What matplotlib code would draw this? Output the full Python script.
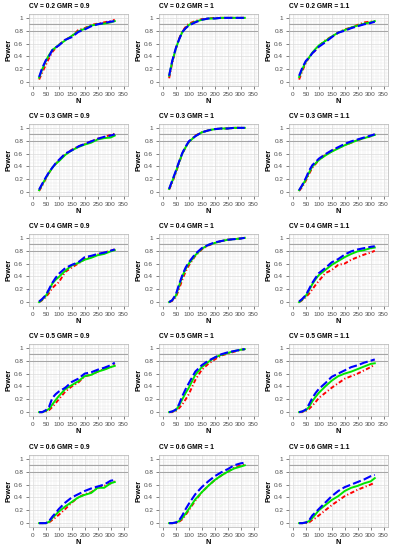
import numpy as np
import matplotlib
matplotlib.use('Agg')
import matplotlib.pyplot as plt
from matplotlib.ticker import MultipleLocator

plt.rcParams['font.family'] = ['Liberation Sans', 'DejaVu Sans']

# sample sizes (same for every panel)
N = [24, 36, 50, 62, 75, 88, 100, 125, 150, 175, 200, 225, 250, 275, 300, 316]

cv_values = [0.2, 0.3, 0.4, 0.5, 0.6]
gmr_labels = ['0.9', '1', '1.1']

# power curves, one list per panel and method
green_02_09 = [0.07, 0.20, 0.33, 0.42, 0.50, 0.54, 0.58, 0.65, 0.72, 0.79, 0.83, 0.88, 0.90, 0.91, 0.93, 0.95]
red_02_09 = [0.04, 0.15, 0.27, 0.37, 0.47, 0.53, 0.58, 0.66, 0.71, 0.81, 0.84, 0.89, 0.91, 0.93, 0.95, 0.97]
blue_02_09 = [0.08, 0.22, 0.34, 0.40, 0.50, 0.54, 0.57, 0.66, 0.70, 0.78, 0.82, 0.87, 0.90, 0.92, 0.94, 0.95]

green_02_10 = [0.10, 0.32, 0.52, 0.66, 0.78, 0.84, 0.89, 0.94, 0.97, 0.99, 0.99, 1.00, 1.00, 1.00, 1.00, 1.00]
red_02_10 = [0.06, 0.30, 0.52, 0.67, 0.79, 0.86, 0.91, 0.95, 0.98, 0.99, 1.00, 1.00, 1.00, 1.00, 1.00, 1.00]
blue_02_10 = [0.10, 0.33, 0.53, 0.66, 0.78, 0.84, 0.88, 0.93, 0.97, 0.99, 0.99, 1.00, 1.00, 1.00, 1.00, 1.00]

green_02_11 = [0.08, 0.20, 0.32, 0.38, 0.46, 0.52, 0.57, 0.64, 0.71, 0.77, 0.81, 0.85, 0.88, 0.91, 0.93, 0.95]
red_02_11 = [0.04, 0.17, 0.30, 0.38, 0.45, 0.50, 0.56, 0.65, 0.71, 0.77, 0.82, 0.85, 0.89, 0.93, 0.94, 0.95]
blue_02_11 = [0.10, 0.22, 0.33, 0.38, 0.45, 0.50, 0.55, 0.62, 0.70, 0.77, 0.80, 0.84, 0.87, 0.90, 0.92, 0.94]

green_03_09 = [0.03, 0.12, 0.22, 0.30, 0.38, 0.44, 0.48, 0.58, 0.65, 0.70, 0.74, 0.77, 0.82, 0.84, 0.85, 0.88]
red_03_09 = [0.02, 0.10, 0.21, 0.30, 0.38, 0.44, 0.49, 0.59, 0.66, 0.71, 0.75, 0.79, 0.83, 0.86, 0.89, 0.91]
blue_03_09 = [0.04, 0.13, 0.23, 0.31, 0.38, 0.45, 0.50, 0.60, 0.65, 0.71, 0.75, 0.79, 0.83, 0.86, 0.88, 0.90]

green_03_10 = [0.05, 0.17, 0.32, 0.46, 0.60, 0.70, 0.78, 0.87, 0.93, 0.96, 0.98, 0.99, 0.99, 1.00, 1.00, 1.00]
red_03_10 = [0.04, 0.15, 0.30, 0.45, 0.60, 0.70, 0.78, 0.88, 0.93, 0.96, 0.98, 0.99, 0.99, 1.00, 1.00, 1.00]
blue_03_10 = [0.05, 0.18, 0.33, 0.47, 0.61, 0.71, 0.79, 0.87, 0.93, 0.96, 0.98, 0.99, 0.99, 1.00, 1.00, 1.00]

green_03_11 = [0.03, 0.10, 0.20, 0.30, 0.40, 0.45, 0.50, 0.57, 0.63, 0.68, 0.73, 0.77, 0.81, 0.84, 0.87, 0.89]
red_03_11 = [0.02, 0.08, 0.18, 0.28, 0.38, 0.44, 0.50, 0.58, 0.64, 0.69, 0.73, 0.77, 0.81, 0.84, 0.87, 0.90]
blue_03_11 = [0.03, 0.11, 0.22, 0.33, 0.42, 0.47, 0.52, 0.59, 0.65, 0.70, 0.75, 0.79, 0.82, 0.85, 0.88, 0.90]

green_04_09 = [0.00, 0.04, 0.10, 0.18, 0.29, 0.35, 0.39, 0.49, 0.57, 0.61, 0.66, 0.69, 0.73, 0.75, 0.79, 0.81]
red_04_09 = [0.00, 0.03, 0.08, 0.14, 0.22, 0.27, 0.31, 0.47, 0.54, 0.60, 0.67, 0.70, 0.74, 0.77, 0.80, 0.82]
blue_04_09 = [0.01, 0.05, 0.11, 0.20, 0.30, 0.38, 0.44, 0.53, 0.58, 0.62, 0.70, 0.72, 0.75, 0.77, 0.80, 0.82]

green_04_10 = [0.00, 0.03, 0.10, 0.25, 0.40, 0.52, 0.60, 0.73, 0.83, 0.89, 0.92, 0.95, 0.97, 0.98, 0.99, 1.00]
red_04_10 = [0.00, 0.02, 0.08, 0.20, 0.35, 0.48, 0.57, 0.72, 0.82, 0.88, 0.92, 0.95, 0.97, 0.98, 0.99, 1.00]
blue_04_10 = [0.00, 0.03, 0.12, 0.27, 0.42, 0.54, 0.62, 0.75, 0.84, 0.89, 0.93, 0.95, 0.97, 0.98, 0.99, 1.00]

green_04_11 = [0.00, 0.04, 0.10, 0.18, 0.28, 0.36, 0.42, 0.50, 0.58, 0.64, 0.70, 0.75, 0.79, 0.81, 0.84, 0.85]
red_04_11 = [0.00, 0.03, 0.08, 0.13, 0.20, 0.27, 0.33, 0.45, 0.50, 0.58, 0.60, 0.66, 0.70, 0.74, 0.77, 0.80]
blue_04_11 = [0.01, 0.05, 0.11, 0.20, 0.30, 0.38, 0.45, 0.53, 0.62, 0.67, 0.74, 0.79, 0.82, 0.84, 0.86, 0.87]

green_05_09 = [0.00, 0.00, 0.02, 0.05, 0.12, 0.19, 0.25, 0.36, 0.42, 0.48, 0.56, 0.58, 0.63, 0.66, 0.70, 0.72]
red_05_09 = [0.00, 0.00, 0.01, 0.03, 0.08, 0.14, 0.20, 0.32, 0.40, 0.46, 0.56, 0.58, 0.63, 0.67, 0.70, 0.74]
blue_05_09 = [0.00, 0.00, 0.03, 0.08, 0.22, 0.28, 0.32, 0.38, 0.47, 0.52, 0.60, 0.62, 0.66, 0.69, 0.73, 0.77]

green_05_10 = [0.00, 0.01, 0.03, 0.10, 0.20, 0.30, 0.38, 0.58, 0.70, 0.78, 0.85, 0.89, 0.92, 0.95, 0.97, 0.98]
red_05_10 = [0.00, 0.00, 0.02, 0.06, 0.12, 0.20, 0.28, 0.50, 0.66, 0.75, 0.82, 0.88, 0.91, 0.94, 0.97, 0.98]
blue_05_10 = [0.00, 0.01, 0.04, 0.12, 0.25, 0.36, 0.45, 0.63, 0.73, 0.80, 0.85, 0.90, 0.93, 0.95, 0.97, 0.98]

green_05_11 = [0.00, 0.01, 0.03, 0.08, 0.17, 0.24, 0.30, 0.40, 0.49, 0.56, 0.60, 0.63, 0.67, 0.71, 0.75, 0.76]
red_05_11 = [0.00, 0.00, 0.02, 0.05, 0.10, 0.16, 0.22, 0.30, 0.38, 0.45, 0.52, 0.56, 0.60, 0.65, 0.70, 0.74]
blue_05_11 = [0.00, 0.01, 0.04, 0.12, 0.22, 0.30, 0.36, 0.45, 0.55, 0.60, 0.65, 0.70, 0.73, 0.77, 0.80, 0.82]

green_06_09 = [0.00, 0.00, 0.00, 0.02, 0.08, 0.13, 0.18, 0.26, 0.33, 0.40, 0.44, 0.47, 0.55, 0.55, 0.62, 0.64]
red_06_09 = [0.00, 0.00, 0.00, 0.01, 0.05, 0.09, 0.13, 0.22, 0.32, 0.40, 0.45, 0.48, 0.55, 0.58, 0.62, 0.65]
blue_06_09 = [0.00, 0.00, 0.00, 0.03, 0.10, 0.16, 0.22, 0.32, 0.40, 0.45, 0.50, 0.54, 0.57, 0.60, 0.66, 0.67]

green_06_10 = [0.00, 0.00, 0.01, 0.03, 0.08, 0.15, 0.22, 0.37, 0.48, 0.58, 0.67, 0.74, 0.80, 0.85, 0.88, 0.90]
red_06_10 = [0.00, 0.00, 0.00, 0.02, 0.06, 0.13, 0.20, 0.35, 0.48, 0.58, 0.67, 0.74, 0.80, 0.86, 0.90, 0.91]
blue_06_10 = [0.00, 0.00, 0.01, 0.04, 0.12, 0.22, 0.30, 0.45, 0.56, 0.65, 0.73, 0.79, 0.84, 0.90, 0.93, 0.94]

green_06_11 = [0.00, 0.00, 0.01, 0.03, 0.08, 0.14, 0.20, 0.28, 0.36, 0.42, 0.50, 0.55, 0.58, 0.62, 0.65, 0.70]
red_06_11 = [0.00, 0.00, 0.00, 0.01, 0.05, 0.08, 0.12, 0.20, 0.28, 0.35, 0.42, 0.47, 0.52, 0.56, 0.60, 0.63]
blue_06_11 = [0.00, 0.00, 0.01, 0.04, 0.12, 0.17, 0.22, 0.32, 0.42, 0.50, 0.56, 0.60, 0.64, 0.68, 0.73, 0.75]

panels = [
    [(green_02_09, red_02_09, blue_02_09), (green_02_10, red_02_10, blue_02_10), (green_02_11, red_02_11, blue_02_11)],
    [(green_03_09, red_03_09, blue_03_09), (green_03_10, red_03_10, blue_03_10), (green_03_11, red_03_11, blue_03_11)],
    [(green_04_09, red_04_09, blue_04_09), (green_04_10, red_04_10, blue_04_10), (green_04_11, red_04_11, blue_04_11)],
    [(green_05_09, red_05_09, blue_05_09), (green_05_10, red_05_10, blue_05_10), (green_05_11, red_05_11, blue_05_11)],
    [(green_06_09, red_06_09, blue_06_09), (green_06_10, red_06_10, blue_06_10), (green_06_11, red_06_11, blue_06_11)],
]

W, H = 393, 550
fig = plt.figure(figsize=(W / 100, H / 100), dpi=100)

col_left = [29, 159, 289]
row_top = [14, 124, 234, 344, 455]
pw, ph = 99, 72

for r, cv in enumerate(cv_values):
    for c, gmr in enumerate(gmr_labels):
        ax = fig.add_axes([col_left[c] / W, 1 - (row_top[r] + ph) / H, pw / W, ph / H])
        green, red, blue = panels[r][c]

        ax.axhline(0.8, color='#a6a6a6', lw=0.8, zorder=1)
        ax.axhline(0.9, color='#a6a6a6', lw=0.8, zorder=1)

        ax.plot(N, red, color='red', lw=1.4, dashes=(2.2, 1.2, 0.6, 1.2), zorder=3)
        ax.plot(N, green, color='#00e600', lw=1.4, zorder=4)
        ax.plot(N, blue, color='blue', lw=1.5, dashes=(4, 1.5), zorder=5)

        ax.set_xlim(-15, 367)
        ax.set_ylim(-0.06, 1.06)
        ax.xaxis.set_major_locator(MultipleLocator(50))
        ax.xaxis.set_minor_locator(MultipleLocator(10))
        ax.yaxis.set_major_locator(MultipleLocator(0.2))
        ax.yaxis.set_minor_locator(MultipleLocator(0.05))
        ax.set_yticks([0, 0.2, 0.4, 0.6, 0.8, 1])
        ax.set_yticklabels(['0', '0.2', '0.4', '0.6', '0.8', '1'])
        ax.grid(which='major', color='#dcdcdc', lw=0.5, zorder=0)
        ax.grid(which='minor', color='#e8e8e8', lw=0.35, zorder=0)
        ax.set_axisbelow(True)
        ax.tick_params(which='major', labelsize=4.6, colors='#4d4d4d', length=2.2, width=0.5, pad=2)
        ax.tick_params(which='minor', length=0)
        for s in ax.spines.values():
            s.set_color('#b3b3b3')
            s.set_linewidth(0.5)

        ax.set_xlabel('N', fontsize=5.3, fontweight='bold', labelpad=1)
        ax.set_ylabel('Power', fontsize=5.3, fontweight='bold', labelpad=1.5)
        ax.set_title(f'CV = {cv} GMR = {gmr}', fontsize=4.8, fontweight='bold',
                     loc='left', pad=4)

fig.savefig('out.png', dpi=100)
